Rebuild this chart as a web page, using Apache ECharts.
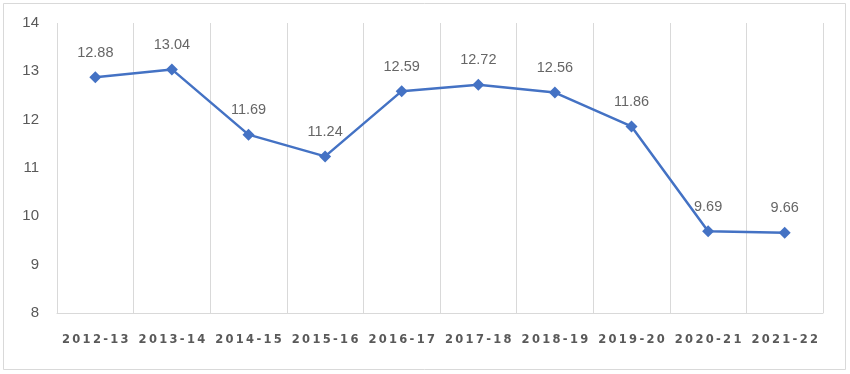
<!DOCTYPE html>
<html><head><meta charset="utf-8">
<script src="https://cdn.jsdelivr.net/npm/echarts@6/dist/echarts.min.js"></script>
<style>html,body{margin:0;padding:0;background:#fff}#c{width:850px;height:374px}</style>
</head><body><div id="c"></div>
<script>
const categories = ['2012-13','2013-14','2014-15','2015-16','2016-17','2017-18','2018-19','2019-20','2020-21','2021-22'];
const values = [12.88, 13.04, 11.69, 11.24, 12.59, 12.72, 12.56, 11.86, 9.69, 9.66];
const yTicks = [8, 9, 10, 11, 12, 13, 14];

const chart = echarts.init(document.getElementById('c'), null, {renderer:'canvas'});
chart.setOption({
  animation:false,
  backgroundColor:'#fff',
  graphic:[{type:'rect',shape:{x:3.5,y:3.5,width:842,height:366},style:{fill:'none',stroke:'#d9d9d9',lineWidth:1}}],
  grid:{left:57,right:27,top:23,bottom:61},
  xAxis:{
    type:'category', data:categories, boundaryGap:true,
    axisLine:{show:true,lineStyle:{color:'#d9d9d9',width:1}},
    axisTick:{show:false,interval:0},
    splitLine:{show:true,interval:0,lineStyle:{color:'#d9d9d9',width:1}},
    axisLabel:{interval:0,color:'#595959',fontFamily:'DejaVu Sans',fontSize:11.5,fontWeight:'bold',margin:21,
      formatter:v=>v.split('').join('\u2009')}
  },
  yAxis:{
    type:'value', min:yTicks[0], max:yTicks[yTicks.length-1], interval:1,
    axisLine:{show:false}, axisTick:{show:false}, splitLine:{show:false},
    axisLabel:{color:'#595959',fontFamily:'Liberation Sans',fontSize:15,margin:18}
  },
  series:[{
    type:'line', data:values,
    symbol:'diamond', symbolSize:12,
    lineStyle:{color:'#4472C4',width:2.5},
    itemStyle:{color:'#4472C4'},
    label:{show:true,position:'top',distance:11,color:'#666666',fontFamily:'Liberation Sans',fontSize:14.5,
      formatter:p=>p.value.toFixed(2)}
  }]
});
</script></body></html>
